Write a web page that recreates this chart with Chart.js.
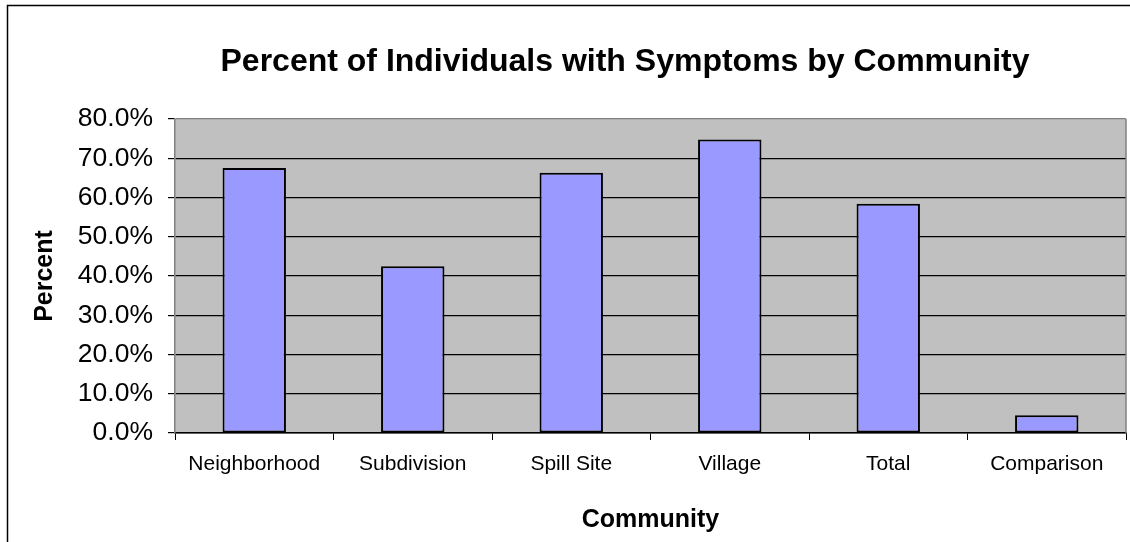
<!DOCTYPE html>
<html>
<head>
<meta charset="utf-8">
<script src="https://cdn.jsdelivr.net/npm/chart.js@4"></script>
<style>
  html, body { margin: 0; padding: 0; background: #fff; }
  #wrap { width: 1130px; height: 542px; }
</style>
</head>
<body>
<div id="wrap"><canvas id="myChart"></canvas></div>
<script>
// data
var communities = ['Neighborhood', 'Subdivision', 'Spill Site', 'Village', 'Total', 'Comparison'];
var symptomPct = [0.675, 0.425, 0.663, 0.748, 0.584, 0.045];
var yMax = 0.8;
var yStep = 0.1;
var chartTitle = 'Percent of Individuals with Symptoms by Community';

var FONT = "'Liberation Sans', Arial, sans-serif";

// grey plot area, outer frame and the title (the title sits off-centre in the original)
var frame = {
    id: 'frame',
    beforeDraw: function (chart) {
        var c = chart.ctx, a = chart.chartArea;
        c.save();
        c.fillStyle = '#C0C0C0';
        c.fillRect(a.left, a.top, a.right - a.left, a.bottom - a.top);
        c.strokeStyle = '#000';
        c.lineWidth = 1.5;
        c.strokeRect(7.5, 5.5, 1200, 600);
        c.fillStyle = '#000';
        c.font = 'bold 32px ' + FONT;
        c.textAlign = 'center';
        c.textBaseline = 'alphabetic';
        c.fillText(chartTitle, 625, 71);
        c.restore();
    },
    beforeDatasetsDraw: function (chart) {
        var c = chart.ctx, a = chart.chartArea;
        c.save();
        c.strokeStyle = '#808080';
        c.lineWidth = 1.5;
        c.beginPath();
        c.moveTo(a.right, a.top);
        c.lineTo(a.right, a.bottom);
        c.stroke();
        c.restore();
    }
};

var ctx = document.getElementById('myChart').getContext('2d');
var myChart = new Chart(ctx, {
    type: 'bar',
    data: {
        labels: communities,
        datasets: [{
            label: 'Percent',
            data: symptomPct,
            backgroundColor: '#9999FF',
            borderColor: '#000',
            borderWidth: 2,
            borderSkipped: false,
            categoryPercentage: 1,
            barPercentage: 0.4
        }]
    },
    options: {
        responsive: true,
        maintainAspectRatio: false,
        animation: false,
        layout: { padding: { left: 0, right: 4, top: 119, bottom: 0 } },
        plugins: {
            legend: { display: false },
            tooltip: { enabled: false },
            title: { display: false }
        },
        scales: {
            x: {
                offset: true,
                grid: {
                    offset: true,
                    drawOnChartArea: false,
                    tickLength: 7,
                    color: '#000'
                },
                border: { color: '#000', width: 1.5 },
                ticks: {
                    color: '#000',
                    padding: 12,
                    maxRotation: 0,
                    font: { family: FONT, size: 21 }
                },
                title: {
                    display: true,
                    text: 'Community',
                    color: '#000',
                    font: { family: FONT, size: 25, weight: 'bold' },
                    padding: { top: 0, bottom: 7 }
                },
                afterFit: function (s) { s.height = 109; }
            },
            y: {
                min: 0,
                max: yMax,
                grid: {
                    tickLength: 7,
                    color: function (c) { return c.tick && c.tick.value >= yMax - 1e-9 ? '#808080' : '#000'; },
                    tickColor: '#000',
                    lineWidth: 1.2
                },
                border: { color: '#808080', width: 1.5 },
                ticks: {
                    stepSize: yStep,
                    color: '#000',
                    padding: 15,
                    font: { family: FONT, size: 26.5 },
                    callback: function (v) { return (v * 100).toFixed(1) + '%'; }
                },
                title: {
                    display: true,
                    text: 'Percent',
                    color: '#000',
                    font: { family: FONT, size: 25, weight: 'bold' },
                    padding: { top: 30, bottom: 0 }
                },
                afterFit: function (s) { s.width = 175; }
            }
        }
    },
    plugins: [frame]
});
</script>
</body>
</html>
